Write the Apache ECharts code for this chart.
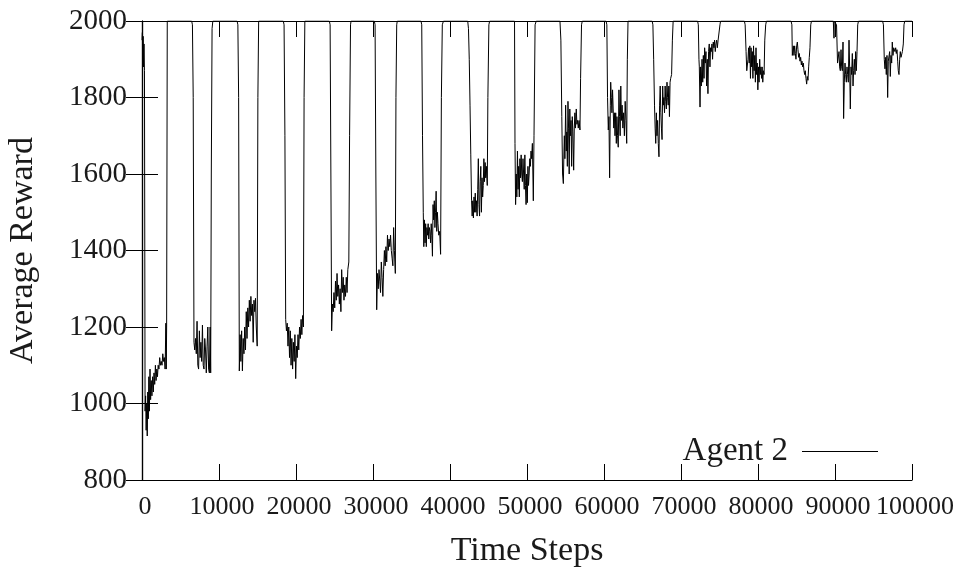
<!DOCTYPE html>
<html>
<head>
<meta charset="utf-8">
<script src="https://cdn.jsdelivr.net/npm/echarts@6/dist/echarts.min.js"></script>
<style>
  html, body { margin: 0; padding: 0; background: #fff; }
  #chart { width: 959px; height: 570px; }
</style>
</head>
<body>
<div id="chart"></div>
<script>
// tick values
const xTicks = [0, 10000, 20000, 30000, 40000, 50000, 60000, 70000, 80000, 90000, 100000];
const yTicks = [800, 1000, 1200, 1400, 1600, 1800, 2000];

// [time step, average reward], one list per dip
const dip00 = [[0,1950],[50,1970],[100,1900],[150,1960],[200,1880],[260,1940],[320,1870],[400,980],[470,1020],[540,930],[610,1000],[680,915],[750,1030],[820,960],[890,1070],[960,980],[1040,1090],[1120,1010],[1200,1060],[1290,1020],[1380,1070],[1470,1030],[1560,1080],[1650,1050],[1740,1100],[1830,1060],[1920,1090],[2010,1070],[2100,1100],[2200,1090],[2300,1120],[2400,1100],[2500,1110],[2600,1100],[2700,1130],[2800,1110],[2900,1120],[3000,1090],[3100,1210],[3150,1090],[3200,1200],[3280,2000]];
const dip01 = [[6450,2000],[6550,1990],[6650,1800],[6750,1160],[6850,1140],[6950,1170],[7050,1130],[7150,1215],[7250,1100],[7350,1090],[7450,1190],[7550,1120],[7650,1160],[7750,1110],[7850,1205],[7950,1100],[8050,1090],[8150,1170],[8250,1140],[8350,1080],[8450,1150],[8550,1200],[8650,1090],[8750,1080],[8850,1200],[8920,1080],[9000,1600],[9100,1980],[9200,2000]];
const dip02 = [[12350,2000],[12450,1990],[12550,1800],[12640,1085],[12740,1180],[12840,1110],[12940,1190],[13040,1085],[13140,1170],[13240,1130],[13340,1200],[13440,1140],[13540,1240],[13640,1170],[13740,1250],[13840,1200],[13940,1270],[14040,1215],[14140,1280],[14240,1230],[14340,1260],[14440,1160],[14540,1270],[14640,1240],[14740,1275],[14840,1200],[14960,1150],[15050,1800],[15150,2000]];
const dip03 = [[18350,2000],[18450,1990],[18560,1700],[18660,1220],[18760,1190],[18860,1210],[18960,1150],[19060,1200],[19160,1120],[19260,1190],[19360,1100],[19460,1170],[19560,1090],[19660,1160],[19760,1110],[19860,1180],[19960,1065],[20060,1150],[20160,1120],[20260,1180],[20360,1140],[20460,1200],[20560,1170],[20660,1220],[20760,1180],[20860,1230],[20960,1200],[21050,1800],[21150,2000]];
const dip04 = [[24330,2000],[24430,1990],[24530,1600],[24630,1190],[24730,1260],[24830,1240],[24930,1290],[25030,1250],[25130,1320],[25230,1270],[25330,1340],[25430,1280],[25530,1310],[25630,1260],[25730,1300],[25830,1240],[25930,1350],[26030,1290],[26130,1330],[26230,1270],[26330,1310],[26430,1280],[26530,1330],[26630,1290],[26730,1350],[26860,1370],[26960,1700],[27080,1990],[27150,2000]];
const dip05 = [[30170,2000],[30270,1990],[30370,1600],[30480,1245],[30580,1340],[30680,1300],[30780,1350],[30880,1320],[30980,1290],[31080,1370],[31180,1330],[31280,1280],[31380,1350],[31480,1400],[31580,1360],[31680,1410],[31780,1370],[31880,1440],[31980,1400],[32080,1430],[32180,1410],[32280,1440],[32380,1400],[32480,1380],[32580,1360],[32680,1460],[32780,1400],[32900,1340],[32980,1800],[33080,1990],[33150,2000]];
const dip06 = [[36230,2000],[36330,1990],[36430,1700],[36530,1500],[36600,1410],[36680,1480],[36760,1420],[36840,1470],[36920,1410],[37000,1460],[37080,1440],[37160,1470],[37240,1430],[37320,1460],[37400,1450],[37480,1420],[37560,1470],[37640,1440],[37720,1385],[37800,1520],[37880,1480],[37960,1530],[38040,1460],[38120,1500],[38200,1555],[38280,1450],[38360,1500],[38440,1470],[38540,1440],[38660,1450],[38780,1390],[38880,1800],[39000,1990],[39150,2000]];
const dip07 = [[42300,2000],[42400,1980],[42500,1900],[42600,1780],[42700,1650],[42800,1530],[42880,1490],[42960,1530],[43040,1485],[43120,1540],[43200,1500],[43280,1550],[43360,1500],[43440,1530],[43520,1490],[43600,1560],[43680,1640],[43760,1520],[43840,1490],[43920,1580],[44000,1620],[44080,1500],[44160,1590],[44240,1540],[44320,1570],[44400,1640],[44480,1580],[44560,1630],[44640,1590],[44720,1620],[44840,1570],[44920,1800],[45050,1990],[45150,2000]];
const dip08 = [[48380,2000],[48440,1680],[48520,1520],[48600,1600],[48680,1540],[48760,1660],[48840,1560],[48920,1620],[49000,1540],[49080,1640],[49160,1590],[49240,1650],[49320,1600],[49400,1580],[49480,1640],[49560,1600],[49640,1560],[49720,1650],[49800,1570],[49880,1520],[49960,1600],[50040,1525],[50120,1620],[50200,1570],[50280,1600],[50360,1640],[50440,1620],[50520,1660],[50600,1640],[50700,1680],[50820,1530],[50910,1700],[51050,1990],[51200,2000]];
const dip09 = [[54280,2000],[54400,1950],[54520,1750],[54620,1600],[54720,1575],[54800,1660],[54850,1700],[54920,1640],[55020,1780],[55100,1660],[55170,1710],[55240,1620],[55320,1790],[55400,1720],[55480,1600],[55560,1770],[55640,1700],[55720,1740],[55800,1620],[55880,1750],[55960,1710],[56060,1610],[56140,1720],[56220,1760],[56300,1720],[56400,1770],[56480,1730],[56560,1740],[56660,1720],[56760,1740],[56880,1715],[56960,1850],[57080,1990],[57180,2000]];
const dip10 = [[60270,2000],[60370,1990],[60460,1800],[60560,1715],[60640,1750],[60730,1590],[60820,1780],[60870,1840],[60950,1800],[61030,1760],[61110,1820],[61190,1770],[61270,1720],[61350,1760],[61430,1700],[61520,1760],[61600,1680],[61680,1750],[61760,1700],[61850,1670],[61940,1820],[62020,1750],[62100,1700],[62180,1830],[62260,1740],[62350,1780],[62450,1720],[62550,1760],[62650,1700],[62750,1790],[62850,1740],[62950,1680],[63030,1900],[63120,2000]];
const dip11 = [[66250,2000],[66350,1990],[66450,1900],[66560,1780],[66640,1720],[66720,1680],[66800,1760],[66880,1700],[66960,1740],[67050,1680],[67140,1645],[67220,1780],[67300,1830],[67380,1760],[67460,1720],[67540,1690],[67620,1830],[67700,1780],[67780,1800],[67860,1760],[67940,1830],[68020,1790],[68100,1770],[68180,1840],[68260,1800],[68340,1780],[68420,1830],[68500,1750],[68580,1840],[68660,1850],[68780,1860],[68880,1950],[68980,2000]];
const dip12 = [[72150,2000],[72250,1990],[72330,1900],[72380,1880],[72470,1775],[72550,1880],[72640,1830],[72730,1900],[72820,1840],[72900,1910],[72990,1850],[73070,1930],[73160,1890],[73240,1920],[73320,1830],[73410,1900],[73500,1810],[73580,1920],[73670,1940],[73760,1880],[73840,1930],[73930,1920],[74020,1940],[74100,1900],[74190,1945],[74280,1930],[74360,1950],[74450,1920],[74540,1940],[74630,1950],[74720,1930],[74820,1950],[74970,1955],[75060,1990],[75140,2000]];
const dip13 = [[78230,2000],[78330,1990],[78450,1920],[78540,1870],[78610,1875],[78700,1900],[78780,1930],[78860,1890],[78940,1935],[79020,1850],[79100,1930],[79180,1880],[79260,1920],[79340,1850],[79420,1935],[79500,1870],[79580,1910],[79660,1840],[79740,1930],[79820,1860],[79900,1890],[79980,1820],[80060,1880],[80140,1840],[80220,1900],[80300,1860],[80380,1880],[80460,1850],[80540,1880],[80620,1840],[80700,1870],[80790,1860],[80880,1950],[81000,1990],[81100,2000]];
const dip14 = [[84290,2000],[84400,1990],[84460,1910],[84500,1905],[84590,1935],[84670,1910],[84760,1935],[84850,1915],[84930,1900],[85020,1935],[85110,1945],[85190,1925],[85280,1905],[85370,1915],[85450,1895],[85540,1905],[85630,1885],[85710,1895],[85800,1880],[85890,1890],[85970,1870],[86060,1860],[86140,1870],[86230,1850],[86320,1835],[86400,1855],[86490,1845],[86580,1880],[86660,1905],[86750,1930],[86850,1990],[86950,2000]];
const dip15 = [[89780,2000],[89840,2000],[89870,1955],[89900,2000],[90100,2000],[90200,1990],[90330,1890],[90430,1885],[90520,1920],[90600,1880],[90690,1870],[90780,1925],[90860,1880],[90950,1870],[91040,1945],[91120,1745],[91210,1840],[91300,1890],[91380,1860],[91470,1840],[91560,1880],[91640,1860],[91730,1840],[91820,1950],[91900,1880],[91990,1770],[92080,1880],[92160,1860],[92250,1915],[92340,1830],[92420,1870],[92510,1900],[92600,1860],[92680,1920],[92770,1870],[92860,1920],[92950,1990],[93050,2000]];
const dip16 = [[96180,2000],[96290,1990],[96400,1900],[96490,1875],[96580,1905],[96660,1860],[96750,1910],[96840,1800],[96920,1895],[97010,1890],[97100,1920],[97180,1855],[97270,1910],[97360,1890],[97440,1945],[97530,1910],[97620,1930],[97700,1935],[97790,1920],[97880,1930],[97960,1915],[98050,1925],[98140,1895],[98220,1870],[98310,1860],[98400,1900],[98480,1920],[98570,1905],[98660,1900],[98750,1920],[98870,1940],[98960,1990],[99060,2000],[100000,2000]];

const agent2 = [].concat(dip00, dip01, dip02, dip03, dip04, dip05, dip06, dip07, dip08,
    dip09, dip10, dip11, dip12, dip13, dip14, dip15, dip16);

const font = '"Liberation Serif", "Times New Roman", serif';
const ink = '#1a1a1a';
const plain = v => String(v);

const tickStyle = { show: true, inside: true, length: 16, lineStyle: { color: '#000', width: 1 } };
const lineStyle = { show: true, lineStyle: { color: '#000', width: 1.2 } };

const chart = echarts.init(document.getElementById('chart'));
chart.setOption({
    animation: false,
    backgroundColor: '#fff',
    grid: { left: 142, right: 47, top: 21, bottom: 90, outerBoundsMode: 'none', containLabel: false },
    legend: {
        data: ['Agent 2'],
        right: 76,
        top: 430,
        align: 'right',
        icon: 'rect',
        itemWidth: 76,
        itemHeight: 1.2,
        textStyle: { fontFamily: font, fontSize: 33, color: ink, padding: [0, 9, 0, 0] }
    },
    xAxis: [
        {
            type: 'value', min: xTicks[0], max: xTicks[xTicks.length - 1], interval: 10000,
            name: 'Time Steps', nameLocation: 'middle', nameGap: 54,
            nameTextStyle: { fontFamily: font, fontSize: 34, color: ink },
            axisLine: lineStyle, axisTick: tickStyle, splitLine: { show: false },
            axisLabel: {
                fontFamily: font, fontSize: 26, color: ink, margin: 14, padding: [0, 0, 0, 6],
                formatter: plain, showMinLabel: true, showMaxLabel: true, hideOverlap: false
            }
        },
        {
            type: 'value', position: 'top', min: xTicks[0], max: xTicks[xTicks.length - 1], interval: 10000,
            axisLine: lineStyle, axisTick: tickStyle, splitLine: { show: false },
            axisLabel: { show: false }
        }
    ],
    yAxis: [
        {
            type: 'value', min: yTicks[0], max: yTicks[yTicks.length - 1], interval: 200,
            name: 'Average Reward', nameLocation: 'middle', nameGap: 102,
            nameTextStyle: { fontFamily: font, fontSize: 34, color: ink },
            axisLine: lineStyle, axisTick: tickStyle, splitLine: { show: false },
            axisLabel: { fontFamily: font, fontSize: 29, color: ink, margin: 15, formatter: plain }
        },
        {
            type: 'value', position: 'right', min: yTicks[0], max: yTicks[yTicks.length - 1], interval: 200,
            axisLine: lineStyle, axisTick: tickStyle, splitLine: { show: false },
            axisLabel: { show: false }
        }
    ],
    series: [
        {
            name: 'Agent 2',
            type: 'line',
            xAxisIndex: 0,
            yAxisIndex: 0,
            data: agent2,
            showSymbol: false,
            color: '#000',
            lineStyle: { color: '#000', width: 1 }
        }
    ]
});
</script>
</body>
</html>
